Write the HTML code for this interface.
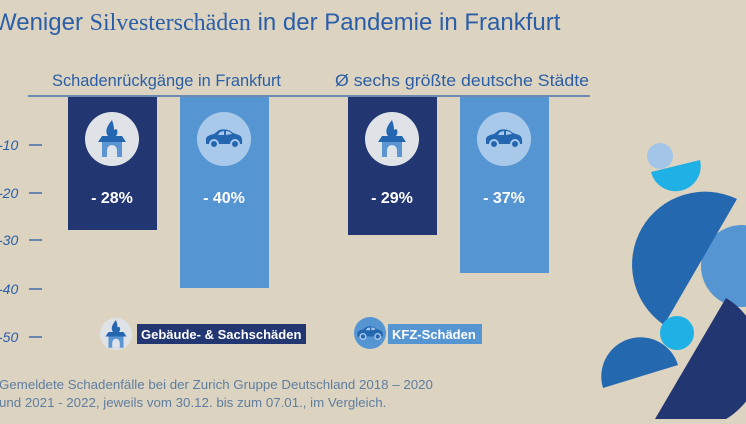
<!DOCTYPE html>
<html><head><meta charset="utf-8"><style>
html,body{margin:0;padding:0;}
body{width:746px;height:419px;overflow:hidden;background:#dcd3c0;}
text{font-family:"Liberation Sans",sans-serif;}
</style></head><body>
<svg width="746" height="419" viewBox="0 0 746 419" xmlns="http://www.w3.org/2000/svg">
<defs>
<g id="house">
  <path d="M0,-20 C-6,-13 -7,-8 -4,-4 L4,-4 C7,-8 5,-13 2,-10 C2,-14 1,-17 0,-20Z" fill="#2466b0"/>
  <path d="M-14,2 L-10,-4 L10,-4 L14,2Z" fill="#2466b0"/>
  <rect x="-10" y="2" width="20" height="15" fill="#5b95d2"/>
  <path d="M-5,17 L-5,10 A5,5 0 0 1 5,10 L5,17Z" fill="#dfe4ea"/>
</g>
<g id="car">
  <path d="M-18,5 L-18,-1 Q-16,-4 -10,-5 L-5,-9 Q4,-11 9,-6 L15,-4 Q19,-2 18,5Z" fill="#2466b0"/>
  <circle cx="-10" cy="5" r="4" fill="#2466b0" stroke="#a9c9ea" stroke-width="2"/>
  <circle cx="11" cy="5" r="4" fill="#2466b0" stroke="#a9c9ea" stroke-width="2"/>
  <path d="M-4,-7 L0,-8 L0,-4 L-6,-4Z M2,-8 Q6,-8 8,-5 L2,-4Z" fill="#a9c9ea"/>
</g>
</defs>
<text x="-6" y="30" font-size="24" fill="#2a5ea8">Weniger <tspan font-family="Liberation Serif">Silvesterschäden</tspan> in der Pandemie in Frankfurt</text>
<text x="52" y="86" font-size="16.3" fill="#2a5ea8" textLength="229" lengthAdjust="spacingAndGlyphs">Schadenrückgänge in Frankfurt</text>
<text x="335" y="86" font-size="16.3" fill="#2a5ea8" textLength="254" lengthAdjust="spacingAndGlyphs">Ø sechs größte deutsche Städte</text>
<line x1="28" y1="96" x2="590" y2="96" stroke="#2a5ea8" stroke-width="1.3"/>
<g font-size="14" font-style="italic" fill="#2a5ea8">
<text x="-2" y="150">-10</text><text x="-2" y="198">-20</text><text x="-2" y="245">-30</text><text x="-2" y="294">-40</text><text x="-2" y="342">-50</text>
</g>
<g stroke="#2a5ea8" stroke-width="1.3">
<line x1="29" y1="145" x2="42" y2="145"/><line x1="29" y1="193" x2="42" y2="193"/><line x1="29" y1="240" x2="42" y2="240"/><line x1="29" y1="289" x2="42" y2="289"/><line x1="29" y1="337" x2="42" y2="337"/>
</g>
<rect x="68" y="97" width="89" height="133" fill="#223671"/>
<rect x="180" y="97" width="89" height="191" fill="#5595d2"/>
<rect x="348" y="97" width="89" height="138" fill="#223671"/>
<rect x="460" y="97" width="89" height="176" fill="#5595d2"/>
<circle cx="112" cy="139" r="27" fill="#dfe3e8"/><use href="#house" x="112" y="140"/>
<circle cx="224" cy="139" r="27" fill="#a9c9ea"/><use href="#car" x="224" y="139"/>
<circle cx="392" cy="139" r="27" fill="#dfe3e8"/><use href="#house" x="392" y="140"/>
<circle cx="504" cy="139" r="27" fill="#a9c9ea"/><use href="#car" x="504" y="139"/>
<g font-size="16" font-weight="bold" fill="#fff" text-anchor="middle">
<text x="112" y="203">- 28%</text><text x="224" y="203">- 40%</text><text x="392" y="203">- 29%</text><text x="504" y="203">- 37%</text>
</g>
<circle cx="116" cy="334" r="16" fill="#dfe3e8"/><use href="#house" transform="translate(116,335) scale(0.75)"/>
<rect x="137" y="324" width="169" height="20" fill="#223671"/>
<text x="141" y="339" font-size="13" font-weight="bold" fill="#fff">Gebäude- &amp; Sachschäden</text>
<circle cx="370" cy="333" r="16" fill="#5595d2"/><use href="#car" transform="translate(370,333) scale(0.7)"/>
<rect x="388" y="324" width="94" height="20" fill="#5595d2"/>
<text x="392" y="339" font-size="13" font-weight="bold" fill="#fff">KFZ-Schäden</text>
<text x="-1" y="389" font-size="13.3" fill="#5f7ea0">Gemeldete Schadenfälle bei der Zurich Gruppe Deutschland 2018 – 2020</text>
<text x="-1" y="407" font-size="13.3" fill="#5f7ea0">und 2021 - 2022, jeweils vom 30.12. bis zum 07.01., im Vergleich.</text>
<circle cx="742" cy="266" r="41" fill="#5595d2"/>
<path d="M737,199 A73,73 0 0 0 664,325Z" fill="#2468b0"/>
<path d="M726,298 A70,70 0 0 1 655,419Z" fill="#223671"/>
<circle cx="677" cy="333" r="17" fill="#1fb0e6"/>
<path d="M603,388 A39,39 0 0 1 678,365Z" fill="#2468b0"/>
<circle cx="660" cy="156" r="13" fill="#a3c6e8"/>
<path d="M651,172 A25,25 0 0 0 700,160Z" fill="#1fb0e6"/>
</svg>
</body></html>
